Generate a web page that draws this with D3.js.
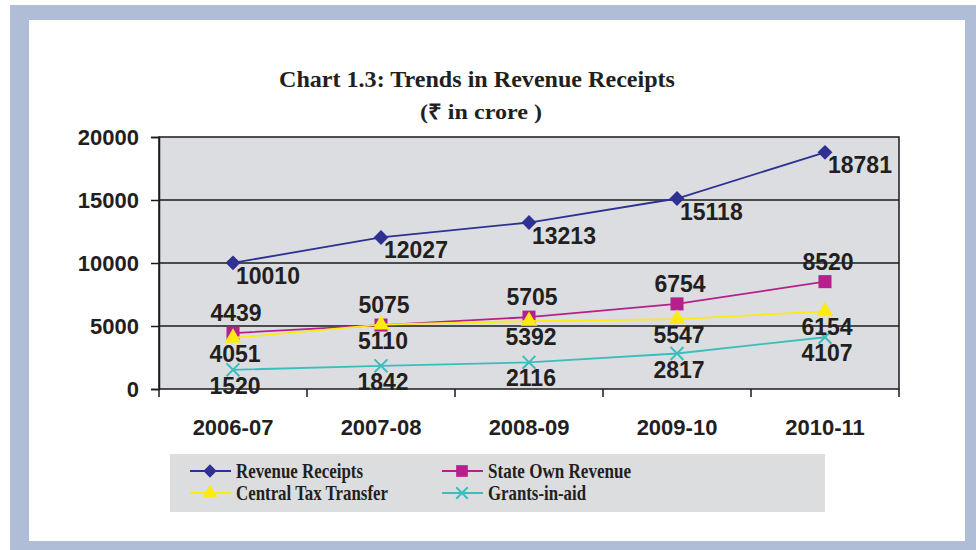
<title>Trends in Revenue Receipts</title>

<script src="https://d3js.org/d3.v7.min.js"></script>
<style>
    body {
      margin: 0;
      background: #ffffff;
    }
    text {
      fill: #231f20;
    }
</style>

<body>
    <div id="plot"></div>
</body>

<script>
    var years = ["2006-07", "2007-08", "2008-09", "2009-10", "2010-11"];
    var revenueReceipts = [10010, 12027, 13213, 15118, 18781];
    var stateOwnRevenue = [4439, 5075, 5705, 6754, 8520];
    var centralTaxTransfer = [4051, 5110, 5392, 5547, 6154];
    var grantsInAid = [1520, 1842, 2116, 2817, 4107];
    var yTicks = [0, 5000, 10000, 15000, 20000];

    // diamond drawn as a square turned 45 degrees, like the spreadsheet marker
    var squareDiamond = {
        draw: function (context, size) {
            var r = Math.sqrt(size / 2);
            context.moveTo(0, -r);
            context.lineTo(r, 0);
            context.lineTo(0, r);
            context.lineTo(-r, 0);
            context.closePath();
        }
    };

    var series = [
        {name: "Revenue Receipts", values: revenueReceipts, color: "#2e3192", symbol: squareDiamond, size: 110, dx: 3, dy: 21, anchor: "start", legendWidth: 127},
        {name: "State Own Revenue", values: stateOwnRevenue, color: "#b5208c", symbol: d3.symbolSquare, size: 170, dx: 3, dy: -12, anchor: "middle", legendWidth: 143},
        {name: "Central Tax Transfer", values: centralTaxTransfer, color: "#fcea10", symbol: d3.symbolTriangle, size: 120, dx: 2, dy: 24, anchor: "middle", legendWidth: 152},
        {name: "Grants-in-aid", values: grantsInAid, color: "#38bfbc", symbol: d3.symbolTimes || d3.symbolCross, size: 110, dx: 2, dy: 24, anchor: "middle", stroke: true, legendWidth: 98}
    ];

    var W = 976, H = 550;
    var plot = {left: 159, right: 899, top: 137, bottom: 389};

    var svg = d3.select("#plot")
        .append("svg")
            .attr("width", W)
            .attr("height", H);

    // frame
    svg.append("rect")
        .attr("x", 10).attr("y", 5)
        .attr("width", W - 10).attr("height", H - 5)
        .attr("fill", "#b0bdd6");
    svg.append("rect")
        .attr("x", 29).attr("y", 20)
        .attr("width", 936).attr("height", 521)
        .attr("fill", "#ffffff");

    // title
    svg.append("text")
        .attr("x", 477).attr("y", 87)
        .attr("text-anchor", "middle")
        .attr("textLength", 396)
        .attr("lengthAdjust", "spacingAndGlyphs")
        .style("font", "bold 24px 'Liberation Serif', serif")
        .text("Chart 1.3: Trends in Revenue Receipts");
    svg.append("text")
        .attr("x", 481).attr("y", 119)
        .attr("text-anchor", "middle")
        .attr("textLength", 122)
        .attr("lengthAdjust", "spacingAndGlyphs")
        .style("font", "bold 21px 'Liberation Serif', serif")
        .text("(\u20B9  in crore )");

    var x = d3.scaleBand()
        .domain(years)
        .range([plot.left, plot.right]);

    var y = d3.scaleLinear()
        .domain([0, 20000])
        .range([plot.bottom, plot.top]);

    // plot background
    svg.append("rect")
        .attr("x", plot.left).attr("y", plot.top)
        .attr("width", plot.right - plot.left)
        .attr("height", plot.bottom - plot.top)
        .attr("fill", "#dcdde0");

    // gridlines
    svg.append("g")
        .selectAll("line")
        .data(yTicks.slice(1, -1))
        .enter()
        .append("line")
        .attr("x1", plot.left).attr("x2", plot.right)
        .attr("y1", function (d) { return y(d); })
        .attr("y2", function (d) { return y(d); })
        .attr("stroke", "#1a1a1a")
        .attr("stroke-width", 1.5);

    // border
    svg.append("rect")
        .attr("x", plot.left).attr("y", plot.top)
        .attr("width", plot.right - plot.left)
        .attr("height", plot.bottom - plot.top)
        .attr("fill", "none")
        .attr("stroke", "#1a1a1a")
        .attr("stroke-width", 1.5);

    // Y axis
    var yAxis = svg.append("g")
        .attr("transform", "translate(" + plot.left + ",0)")
        .call(d3.axisLeft(y).tickValues(yTicks).tickSize(8).tickPadding(12).tickFormat(d3.format("d")));
    yAxis.select(".domain").attr("stroke", "#1a1a1a").attr("stroke-width", 1.5);
    yAxis.selectAll(".tick line").attr("stroke", "#1a1a1a").attr("stroke-width", 1.5);
    yAxis.selectAll("text")
        .style("font", "bold 22px 'Liberation Sans', Arial, sans-serif")
        .attr("fill", "#231f20")
        .attr("dy", "0.36em");

    // X axis: ticks at category boundaries
    var bounds = years.map(function (d) { return x(d); }).concat([plot.right]);
    svg.append("g")
        .selectAll("line")
        .data(bounds)
        .enter()
        .append("line")
        .attr("x1", function (d) { return d; })
        .attr("x2", function (d) { return d; })
        .attr("y1", plot.bottom)
        .attr("y2", plot.bottom + 8)
        .attr("stroke", "#1a1a1a")
        .attr("stroke-width", 1.5);
    svg.append("g")
        .selectAll("text")
        .data(years)
        .enter()
        .append("text")
        .attr("x", function (d) { return x(d) + x.bandwidth() / 2; })
        .attr("y", 435)
        .attr("text-anchor", "middle")
        .style("font", "bold 22px 'Liberation Sans', Arial, sans-serif")
        .text(function (d) { return d; });

    var line = d3.line()
        .x(function (d, i) { return x(years[i]) + x.bandwidth() / 2; })
        .y(function (d) { return y(d); });

    // lines and markers
    series.forEach(function (s) {
        svg.append("path")
            .datum(s.values)
            .attr("d", line)
            .attr("fill", "none")
            .attr("stroke", s.color)
            .attr("stroke-width", 1.8);

        svg.append("g")
            .selectAll("path")
            .data(s.values)
            .enter()
            .append("path")
            .attr("transform", function (d, i) {
                return "translate(" + (x(years[i]) + x.bandwidth() / 2) + "," + y(d) + ")";
            })
            .attr("d", d3.symbol().type(s.symbol).size(s.size))
            .attr("fill", s.stroke ? "none" : s.color)
            .attr("stroke", s.stroke ? s.color : "none")
            .attr("stroke-width", 2);
    });

    // data labels
    series.forEach(function (s) {
        svg.append("g")
            .selectAll("text")
            .data(s.values)
            .enter()
            .append("text")
            .attr("x", function (d, i) { return x(years[i]) + x.bandwidth() / 2 + s.dx; })
            .attr("y", function (d) { return y(d) + s.dy; })
            .attr("text-anchor", s.anchor)
            .style("font", "bold 23px 'Liberation Sans', Arial, sans-serif")
            .text(function (d) { return d; });
    });

    // legend
    var legend = svg.append("g");
    legend.append("rect")
        .attr("x", 170).attr("y", 454)
        .attr("width", 655).attr("height", 58)
        .attr("fill", "#dcdddf");

    var legendPos = [[190, 471], [442, 471], [190, 493], [442, 493]];

    series.forEach(function (s, j) {
        var p = legendPos[j];
        legend.append("line")
            .attr("x1", p[0]).attr("x2", p[0] + 41)
            .attr("y1", p[1]).attr("y2", p[1])
            .attr("stroke", s.color)
            .attr("stroke-width", 1.8);
        legend.append("path")
            .attr("transform", "translate(" + (p[0] + 20) + "," + p[1] + ")")
            .attr("d", d3.symbol().type(s.symbol).size(s.size * 0.8))
            .attr("fill", s.stroke ? "none" : s.color)
            .attr("stroke", s.stroke ? s.color : "none")
            .attr("stroke-width", 2);
        legend.append("text")
            .attr("x", p[0] + 46)
            .attr("y", p[1] + 7)
            .attr("textLength", s.legendWidth)
            .attr("lengthAdjust", "spacingAndGlyphs")
            .style("font", "bold 21px 'Liberation Serif', serif")
            .text(s.name);
    });
</script>
